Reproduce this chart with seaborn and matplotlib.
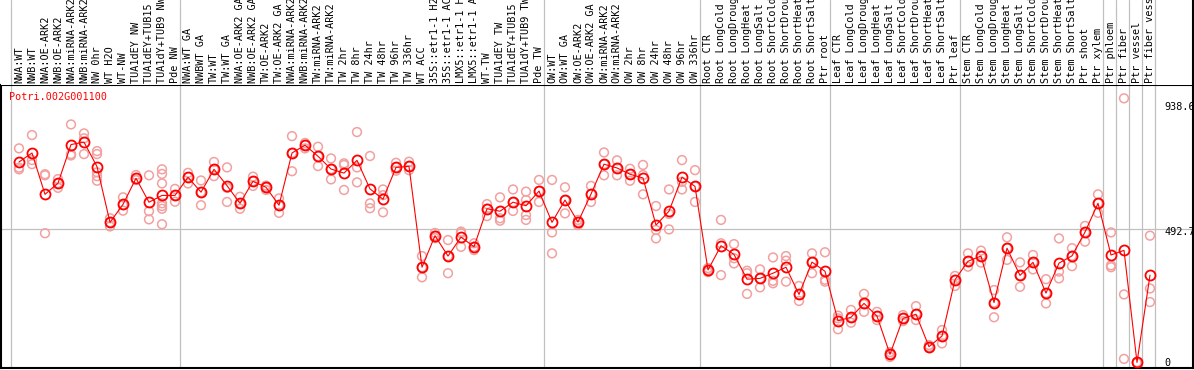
import matplotlib
matplotlib.use("Agg")
import matplotlib.pyplot as plt
import seaborn as sns
import numpy as np
import pandas as pd

gene = "Potri.002G001100"

samples = [
    # NW group
    "NWA:WT", "NWB:WT", "NWA:OE-ARK2", "NWB:OE-ARK2", "NWA:miRNA-ARK2", "NWB:miRNA-ARK2",
    "NW 0hr", "WT H2O", "WT-NW", "TUA1dEY NW", "TUA1dEY+TUB15 NW", "TUA1dY+TUB9 NW", "Pde NW",
    # TW group
    "NWA:WT GA", "NWBWT GA", "TW:WT", "TW:WT GA", "NWA:OE-ARK2 GA", "NWB:OE-ARK2 GA",
    "TW:OE-ARK2", "TW:OE-ARK2 GA", "NWA:miRNA-ARK2 GA", "NWB:miRNA-ARK2 GA", "TW:miRNA-ARK2",
    "TW:miRNA-ARK2 GA", "TW 2hr", "TW 8hr", "TW 24hr", "TW 48hr", "TW 96hr", "TW 336hr",
    "WT ACC", "35S::etr1-1 H2O", "35S::etr1-1 ACC", "LMX5::etr1-1 H2O", "LMX5::etr1-1 ACC",
    "WT-TW", "TUA1dEY TW", "TUA1dEY+TUB15 TW", "TUA1dY+TUB9 TW", "Pde TW",
    # OW group
    "OW:WT", "OW:WT GA", "OW:OE-ARK2", "OW:OE-ARK2 GA", "OW:miRNA-ARK2", "OW:miRNA-ARK2 GA",
    "OW 2hr", "OW 8hr", "OW 24hr", "OW 48hr", "OW 96hr", "OW 336hr",
    # root
    "Root CTR", "Root LongCold", "Root LongDrought", "Root LongHeat", "Root LongSalt",
    "Root ShortCold", "Root ShortDrought", "Root ShortHeat", "Root ShortSalt", "Ptr root",
    # leaf
    "Leaf CTR", "Leaf LongCold", "Leaf LongDrought", "Leaf LongHeat", "Leaf LongSalt",
    "Leaf ShortCold", "Leaf ShortDrought", "Leaf ShortHeat", "Leaf ShortSalt", "Ptr leaf",
    # stem
    "Stem CTR", "Stem LongCold", "Stem LongDrought", "Stem LongHeat", "Stem LongSalt",
    "Stem ShortCold", "Stem ShortDrought", "Stem ShortHeat", "Stem ShortSalt", "Ptr shoot",
    "Ptr xylem",
    "Ptr phloem", "Ptr fiber", "Ptr vessel", "Ptr fiber vessel",
]
group_sizes = [13, 28, 12, 10, 10, 11, 1, 1, 1, 1]

means = [
    738, 771, 619, 660, 802, 811, 721, 516, 582, 678, 590, 615, 615,
    682, 627, 711, 651, 586, 667, 645, 579, 771, 800, 759, 712, 697, 744,
    639, 601, 718, 722, 351, 467, 392, 462, 426, 566, 557, 590, 577, 631,
    516, 598, 517, 620, 730, 716, 693, 679, 506, 557, 682, 648,
    341, 430, 398, 307, 310, 329, 351, 251, 370, 336,
    154, 167, 218, 171, 31, 163, 178, 59, 98, 305,
    373, 392, 221, 421, 321, 369, 256, 366, 393, 480, 586,
    396, 413, 1, 322,
]

replicates = [
    [788, 717, 711], [837, 745, 730], [693, 689, 476], [675, 660, 643],
    [876, 767, 762], [843, 825, 767], [778, 767, 700, 686, 669], [531, 516, 501],
    [608, 580, 559], [690, 672, 672], [689, 557, 527],
    [711, 694, 659, 586, 576, 566, 509], [639, 615, 592],
    [698, 682, 659], [670, 627, 579], [738, 711, 686], [718, 643, 591],
    [610, 586, 566], [684, 667, 650], [651, 645, 635], [604, 579, 551],
    [833, 771, 704], [808, 800, 788], [794, 759, 723], [751, 712, 674],
    [733, 727, 635], [848, 718, 663], [760, 586, 568], [637, 616, 553],
    [735, 718, 706], [739, 722, 708], [392, 351, 314], [477, 467, 458],
    [451, 392, 329], [482, 476, 426], [439, 426, 414], [583, 566, 539],
    [608, 531, 522], [637, 590, 558], [629, 598, 543, 525], [672, 631, 591],
    [672, 479, 402], [645, 598, 549], [525, 517, 506], [650, 620, 591],
    [773, 730, 689], [744, 716, 689], [713, 693, 669], [727, 690, 619],
    [576, 488, 457], [637, 547, 490], [745, 665, 637], [708, 648, 591],
    [348, 341, 333], [525, 439, 322], [436, 384, 365], [338, 329, 253],
    [343, 310, 277], [387, 301, 292], [392, 375, 298], [282, 251, 227],
    [402, 370, 329], [406, 305, 298],
    [173, 163, 123], [194, 167, 147], [253, 215, 187], [187, 171, 157],
    [39, 31, 21], [175, 163, 153], [208, 178, 157], [65, 58, 54],
    [120, 98, 71], [319, 305, 282],
    [402, 373, 353], [412, 392, 368], [267, 221, 167], [461, 421, 378],
    [369, 321, 279], [396, 369, 343], [307, 256, 218], [457, 335, 310],
    [421, 393, 355], [503, 480, 445], [619, 586, 551],
    [479, 358, 351], [972, 251, 14], [2, 0, 0], [467, 273, 223],
]

axis_marks = [938.6, 492.7, 0]

# long table of replicate values
rep_df = pd.DataFrame(
    [(i, v) for i, reps in enumerate(replicates) for v in reps], columns=["pos", "value"]
)
mean_df = pd.DataFrame({"pos": np.arange(len(samples)), "value": means})

sns.set_style("white")
plt.rcParams["font.family"] = ["DejaVu Sans Mono"]

W, H = 1194, 370
fig = plt.figure(figsize=(W / 100, H / 100), dpi=100)
ax = fig.add_axes([1 / W, 2 / H, 1192 / W, 283 / H])
hax = fig.add_axes([1 / W, 285 / H, 1192 / W, 85 / H])

n = len(samples)
xlim = (-18 / 13, n - 1 + 43 / 13)
ylim = (-19.5, 1021)

# group separators
starts = np.concatenate([[0], np.cumsum(group_sizes)]) - 0.62
for a in (ax, hax):
    for s in starts:
        a.axvline(s, color="#c0c0c0", lw=0.9, zorder=0)
ax.axhline(axis_marks[1], color="#c0c0c0", lw=0.9, zorder=0)

sns.scatterplot(data=rep_df, x="pos", y="value", ax=ax, marker="o", s=40,
                facecolor="none", edgecolor="#f2a0a0", linewidth=1.1, zorder=2, legend=False)
sns.lineplot(data=mean_df, x="pos", y="value", ax=ax, color="red", lw=0.8,
             marker="o", markersize=7.2, markerfacecolor="none", markeredgecolor="red",
             markeredgewidth=1.3, zorder=3)

ax.set_xlim(*xlim)
ax.set_ylim(*ylim)
ax.set_xticks([])
ax.set_yticks([])
ax.set_xlabel("")
ax.set_ylabel("")
for side in ["left", "bottom", "right", "top"]:
    ax.spines[side].set_color("black")
    ax.spines[side].set_linewidth(1.5)

# value labels at the right edge
for v in axis_marks:
    yy = v - 13 if v == axis_marks[1] else v
    ax.text(88.08, yy, f"{v:g}", ha="left", va="center", fontsize=7.3,
            color="black", clip_on=False)

ax.text(8.5 / 1192, 1 - 11.7 / 283, gene, transform=ax.transAxes, color="red",
        fontsize=7.3, ha="left", va="center")

# header with rotated sample names (long names run off the top, as in the source)
hax.set_xlim(*xlim)
hax.set_ylim(0, 1)
hax.set_xticks([])
hax.set_yticks([])
for side in ["left", "top", "bottom"]:
    hax.spines[side].set_visible(False)
hax.spines["right"].set_color("black")
hax.spines["right"].set_linewidth(1.5)
for i, name in enumerate(samples):
    hax.text(i, 2 / 85, name, rotation=90, ha="center", va="bottom", fontsize=7.3,
             color="black", clip_on=True)

fig.savefig("out.png", dpi=100)
